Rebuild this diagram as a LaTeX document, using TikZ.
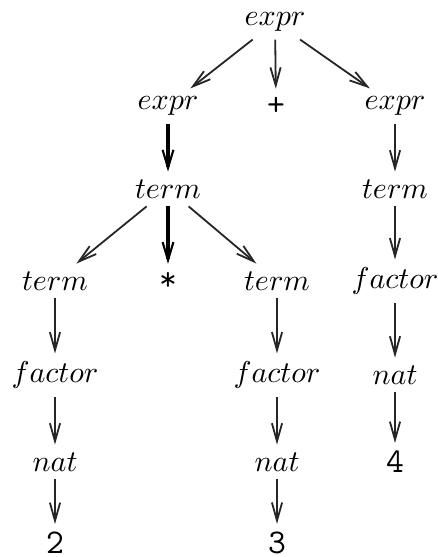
\documentclass[tikz,border=0pt]{standalone}
\usepackage{amsmath}
\usepackage{tikz}
\usetikzlibrary{arrows.meta}

\begin{document}
\begin{tikzpicture}
        % 坐标单位按像素换算, y 轴向下
        [x=0.332pt, y=-0.332pt,
        NTNode/.style={inner sep=2.5pt},
        TNode/.style={inner sep=2.5pt, font=\ttfamily\fontsize{11.5}{13}\selectfont},
        Edge/.style={semithick, draw=black!85, -{Straight Barb[length=6pt,width=3.4pt,line width=0.6pt]}},
        BEdge/.style={line width=1.4pt, -{Straight Barb[length=6pt,width=3.6pt,line width=0.7pt]}}]

        \useasboundingbox (0,0) rectangle (438,557);

        % 根结点
        \node[NTNode] (a_1) at (275,22) {$expr$};

        % 第二层
        \node[NTNode] (b_1) at (168,106) {$expr$};
        \node[TNode] (b_2) at (276,106) {+};
        \node[NTNode] (b_3) at (395,106) {$expr$};

        % 第三层
        \node[NTNode] (c_1) at (168,189) {$term$};
        \node[NTNode] (c_3) at (395,189) {$term$};

        % 第四层
        \node[TNode] (d_2) at (168,281) {*};
        \node[NTNode] (d_4) at (395,281) {$factor$};

        % 左边和中间两列: term -> factor -> nat -> 数字
        % \foreach 循环 \i 为编号, \x 为横坐标, \n 为数字
        \foreach \i/\x/\n in {1/55/2, 3/277/3}{
        \node[NTNode] (d_\i) at (\x,281) {$term$};
        \node[NTNode] (e_\i) at (\x,375) {$factor$};
        \node[NTNode] (f_\i) at (\x,462) {$nat$};
        \node[TNode] (g_\i) at (\x,543) {\n};
        }

        % 右边一列
        \node[NTNode] (e_4) at (395,375) {$nat$};
        \node[TNode] (f_4) at (395,462) {4};

        % 连线
        \foreach \s/\t in {a_1/b_1, a_1/b_2, a_1/b_3, c_1/d_1, c_1/d_3,
                           b_3/c_3, c_3/d_4, d_4/e_4, e_4/f_4}
            \draw[Edge] (\s)--(\t);

        \foreach \i in {1,3}{
            \draw[Edge] (d_\i)--(e_\i);
            \draw[Edge] (e_\i)--(f_\i);
            \draw[Edge] (f_\i)--(g_\i);
        }

        % 加粗的两条
        \draw[BEdge] (b_1)--(c_1);
        \draw[BEdge] (c_1)--(d_2);
    \end{tikzpicture}
\end{document}
